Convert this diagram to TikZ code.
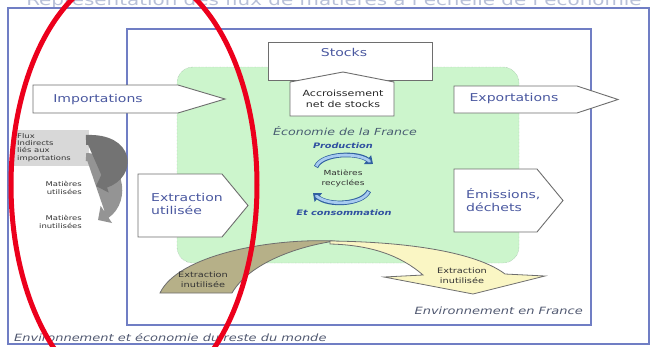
\documentclass[tikz,border=0pt]{standalone}
\usepackage{fontspec}
\setmainfont[FakeStretch=1.3]{DejaVu Sans}
\usetikzlibrary{arrows.meta}
\definecolor{framecol}{RGB}{112,126,196}
\definecolor{boxline}{RGB}{110,110,110}
\definecolor{boxtext}{RGB}{74,88,160}
\definecolor{envtext}{RGB}{80,88,112}
\definecolor{ecogreen}{RGB}{204,245,204}
\definecolor{ecoline}{RGB}{140,160,150}
\definecolor{titlecol}{RGB}{184,192,216}
\definecolor{cyclefill}{RGB}{168,204,240}
\definecolor{cycleline}{RGB}{48,96,160}
\definecolor{cycletext}{RGB}{48,80,160}
\definecolor{olivefill}{RGB}{182,176,136}
\definecolor{paleyellow}{RGB}{250,246,196}
\definecolor{fluxgrey}{RGB}{216,216,216}
\definecolor{markred}{RGB}{236,0,28}
\tikzset{
  envframe/.style={draw=framecol, line width=1.4pt},
  ecoarea/.style={fill=ecogreen, draw=ecoline, densely dotted, rounded corners=16pt},
  flowbox/.style={draw=boxline, fill=white, line width=0.9pt},
  bandshape/.style={draw=boxline, line width=0.8pt},
  titlelabel/.style={text=titlecol, inner sep=0pt, font=\fontsize{15.3}{18}\selectfont},
  boxlabel/.style={text=boxtext, inner sep=0pt, align=left,
    font=\fontsize{10.8}{13.5}\selectfont},
  smalllabel/.style={text=black!85, inner sep=0pt, align=center,
    font=\fontsize{8.5}{11}\selectfont},
  envlabel/.style={text=envtext, inner sep=0pt, font=\fontsize{10}{12}\selectfont\itshape},
  cyclelabel/.style={text=cycletext, inner sep=0pt, font=\fontsize{7.5}{9}\selectfont\bfseries\itshape},
  tinylabel/.style={text=black!80, inner sep=0pt, font=\fontsize{6.5}{7.4}\selectfont},
  greyflow/.style={line width=#1, -{Triangle[length=10pt, width=20pt]}},
  cyclearrow/.style={line width=4.6pt, draw=cycleline,
    -{Triangle[length=7pt, width=11pt, fill=cyclefill]}},
  cycleinner/.style={line width=2.8pt, draw=cyclefill, shorten >=5pt, shorten <=0.8pt}
}
\begin{document}
\begin{tikzpicture}[x=1pt, y=-1pt]
  \useasboundingbox (0,0) rectangle (657,346);
  \clip (0,0) rectangle (657,346);
  \node[titlelabel, anchor=base] (title) at (334,5.5)
    {Représentation des flux de matières à l'échelle de l'économie};

  % cadres
  \draw[envframe] (8,8) rectangle (649,344);
  \draw[envframe] (127,29) rectangle (591,325);
  \node[envlabel, anchor=base east] (envfr) at (583,314) {Environnement en France};
  \node[envlabel, anchor=base west] (envmonde) at (14,341)
    {Environnement et économie du reste du monde};

  % economie
  \draw[ecoarea] (177,67) rectangle (519,263);
  \node[envlabel, text=envtext!90!teal, font=\fontsize{9.7}{12}\selectfont\itshape] (eco) at (345,131)
    {Économie de la France};
  \node[cyclelabel] (prod) at (343,146) {Production};
  \node[tinylabel, align=center, font=\fontsize{7}{10}\selectfont] (recycl) at (343,178)
    {Matières\\recyclées};
  \node[cyclelabel] (conso) at (344,213) {Et consommation};
  \draw[cyclearrow] (316,167) .. controls (322,153) and (358,152) .. (373,164);
  \draw[cycleinner] (316,167) .. controls (322,153) and (358,152) .. (373,164);
  \draw[cyclearrow] (369,191) .. controls (362,205) and (328,206) .. (313,193);
  \draw[cycleinner] (369,191) .. controls (362,205) and (328,206) .. (313,193);

  % stocks
  \draw[flowbox] (268,42) rectangle (432,80);
  \node[boxlabel] (stocks) at (344,52) {Stocks};
  \draw[flowbox] (290,82) -- (343,72) -- (394,82) -- (394,116) -- (290,116) -- cycle;
  \node[smalllabel] (accr) at (343,99) {Accroissement\\net de stocks};

  % flux
  \draw[flowbox] (33,85) -- (178,85) -- (225,99) -- (178,113) -- (33,113) -- cycle;
  \node[boxlabel] (imp) at (98,100) {Importations};
  \draw[flowbox] (454,86) -- (577,86) -- (618,99.5) -- (577,113) -- (454,113) -- cycle;
  \node[boxlabel] (exp) at (514,99) {Exportations};
  \draw[flowbox] (138,174) -- (222,174) -- (248,205.5) -- (222,237) -- (138,237) -- cycle;
  \node[boxlabel, anchor=west] (extru) at (151,204) {Extraction\\utilisée};
  \draw[flowbox] (454,169) -- (537,169) -- (563,200.5) -- (537,232) -- (454,232) -- cycle;
  \node[boxlabel, anchor=west] (emis) at (466,200) {Émissions,\\déchets};

  % extraction inutilisee
  \draw[bandshape, fill=olivefill] (160,293) .. controls (178,255) and (270,238) .. (335,241)
    .. controls (300,246) and (250,262) .. (232,293) -- cycle;
  \draw[bandshape, fill=paleyellow] (330,241) .. controls (420,242) and (480,255) .. (505,274)
    -- (545,276) -- (473,294) -- (384,277) -- (423,275)
    .. controls (400,255) and (370,245) .. (330,244) -- cycle;
  \node[tinylabel, align=center, font=\fontsize{7.5}{10}\selectfont] (inutg) at (203,280)
    {Extraction\\inutilisée};
  \node[tinylabel, align=center, font=\fontsize{7.5}{10}\selectfont] (inutd) at (462,276)
    {Extraction\\inutilisée};

  % flux indirects
  \fill[fluxgrey] (13,130) rectangle (89,166);
  \draw[greyflow=8pt, draw=black!42, fill=black!42] (86,157) .. controls (120,158) and (128,200) .. (98,220);
  \draw[greyflow=10pt, draw=black!55, fill=black!55] (86,140) .. controls (130,138) and (132,174) .. (96,186);
  \node[tinylabel, anchor=north west, align=left] (flux) at (17,133)
    {Flux\\Indirects\\liés aux\\importations};
  \node[tinylabel, anchor=east, align=right] (mutil) at (82,188) {Matières\\utilisées};
  \node[tinylabel, anchor=east, align=right] (minut) at (82,222) {Matières\\inutilisées};

  % marque rouge
  \draw[markred, line width=5pt] (134,185) ellipse [x radius=123pt, y radius=215pt];
\end{tikzpicture}
\end{document}
